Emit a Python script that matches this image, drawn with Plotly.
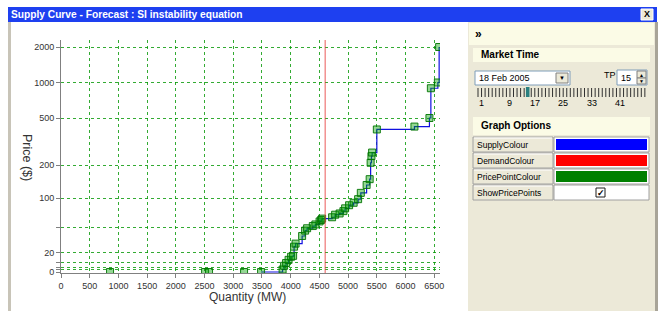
import numpy as np
import plotly.graph_objects as go

# ---------------- data ----------------
quantity_mw = [854, 2509, 2578, 3188, 3484, 3859, 3885, 3920, 3963, 4007, 4042, 4059, 4085,
               4199, 4251, 4286, 4385, 4430, 4503, 4530, 4547, 4721, 4774, 4852, 4918, 4948,
               5017, 5096, 5174, 5221, 5322, 5375, 5392, 5406, 5418, 5500, 6155, 6416, 6441,
               6563, 6585]
price_dollars = [0, 0, 0, 0, 0, 2, 6, 9, 12, 15, 16, 25, 28,
                 37, 45, 49, 52, 54, 58, 60, 62, 64, 68, 70, 74, 79,
                 85, 90, 98, 112, 132, 149, 209, 238, 255, 400, 423, 500, 894,
                 1000, 2000]
supply_line_start_mw = 3484
demand_mw = 4600

x_tick_vals = list(range(0, 7000, 500))
y_tick_vals = [0, 2, 5, 10, 20, 50, 100, 200, 500, 1000, 2000]
y_tick_text = ["0", "", "", "", "20", "", "100", "200", "500", "1000", "2000"]
# custom compressed (log-like) price scale: axis height of each tick value
y_scale_height = [0, 2.5, 5, 9.7, 19.3, 44.3, 73.7, 107, 154, 189.5, 225]

window_title = "Supply Curve - Forecast : SI instability equation"
market_date = "18 Feb 2005"
trading_period = 15
tp_count = 48
tp_labels = [1, 9, 17, 25, 33, 41]
option_names = ["SupplyColour", "DemandColour", "PricePointColour", "ShowPricePoints"]
option_colours = ["#0000FF", "#FF0000", "#008000", None]


def price_to_axis(p):
    return np.interp(np.log10(np.asarray(p, dtype=float) + 1),
                     np.log10(np.asarray(y_tick_vals, dtype=float) + 1),
                     y_scale_height)


q = np.array(quantity_mw)
p = np.array(price_dollars)
line_mask = q >= supply_line_start_mw

fig = go.Figure()
fig.add_trace(go.Scatter(x=q[line_mask], y=price_to_axis(p[line_mask]), mode="lines",
                         line=dict(color="#1010E0", width=1.2, shape="hv"), hoverinfo="skip"))
fig.add_trace(go.Scatter(x=q, y=price_to_axis(p), mode="markers",
                         marker=dict(symbol="square", size=7, color="rgba(0,160,0,0.42)",
                                     line=dict(color="rgba(0,115,0,0.9)", width=1))))

# --------------- layout geometry (pixels) ---------------
W, H = 662, 311
L, R, T, B = 61, 440, 40, 273


def PX(x):
    return (x - L) / (R - L)


def PY(y):
    return (B - y) / (B - T)


shapes = []
annos = []


def rect(x0, y0, x1, y1, fill, line=None, lw=1, layer="above"):
    shapes.append(dict(type="rect", xref="paper", yref="paper",
                       x0=PX(x0), x1=PX(x1), y0=PY(y1), y1=PY(y0),
                       fillcolor=fill, layer=layer,
                       line=dict(color=line or fill, width=lw if line else 0)))


def hline(x0, x1, y, color, w=1):
    shapes.append(dict(type="line", xref="paper", yref="paper",
                       x0=PX(x0), x1=PX(x1), y0=PY(y), y1=PY(y),
                       line=dict(color=color, width=w)))


def vline(x, y0, y1, color, w=1):
    shapes.append(dict(type="line", xref="paper", yref="paper",
                       x0=PX(x), x1=PX(x), y0=PY(y0), y1=PY(y1),
                       line=dict(color=color, width=w)))


def text(x, y, s, size=9, color="#000", bold=False, anchor="left", family="Liberation Sans", angle=0):
    annos.append(dict(x=PX(x), y=PY(y), xref="paper", yref="paper", text=("<b>%s</b>" % s) if bold else s,
                      showarrow=False, xanchor=anchor, yanchor="middle", textangle=angle,
                      borderpad=0, font=dict(size=size, color=color, family=family)))


# window frame
rect(8, 7, 657, 22, "#1E40F0")
text(10, 14.5, window_title, size=10.2, color="#FFFFFF", bold=True)
rect(641, 9, 653, 20, "#ECE9D8", line="#FFFFFF")
text(647, 14.5, "X", size=9, bold=True, anchor="center")
rect(8, 22, 11, 311, "#C8C4B8")
rect(655, 22, 658, 311, "#A8A498")

# right panel
PANEL_BG = "#ECE9D8"
CREAM = "#FBFBE6"
rect(468, 22, 655, 311, PANEL_BG)
rect(469, 23, 654, 45, CREAM)
text(474, 34, "»", size=12, bold=True)

rect(473, 48, 650, 62, CREAM)
text(480, 55, "Market Time", size=10, bold=True)

# date combo
rect(475, 71, 570, 85, "#FFFFFF", line="#7F9DB9")
text(478, 78, market_date, size=9)
rect(556, 73, 568, 83, PANEL_BG, line="#808080")
text(562, 78, "▼", size=6, anchor="center")
# TP spinner
text(603, 75, "TP", size=9)
rect(617, 70, 647, 85, "#FFFFFF", line="#7F9DB9")
text(620, 77.5, str(trading_period), size=9)
rect(637, 71, 646, 78, PANEL_BG, line="#808080")
rect(637, 78, 646, 84, PANEL_BG, line="#808080")
text(641.5, 74.5, "▲", size=5, anchor="center")
text(641.5, 81, "▼", size=5, anchor="center")

# trading-period track bar
tp_x0, tp_step = 478, 3.55
for i in range(tp_count):
    x = tp_x0 + i * tp_step
    vline(x, 88, 97, "#303030", 1)
sel = tp_x0 + (trading_period - 1) * tp_step
rect(sel - 1.8, 87, sel + 1.8, 97, "#2A8080")
for lab in tp_labels:
    text(tp_x0 + (lab - 1) * tp_step, 103, str(lab), size=9, anchor="left" if lab < 10 else "center")

# graph options
rect(473, 117, 650, 135, CREAM)
text(480, 125, "Graph Options", size=10, bold=True)
row_top = 137
row_h = 16
for i, (name, col) in enumerate(zip(option_names, option_colours)):
    y0 = row_top + i * row_h
    y1 = y0 + row_h - 1
    rect(473, y0, 553, y1, PANEL_BG, line="#A0A0A0")
    hline(474, 552, y0 + 1, "#FFFFFF")
    text(476, (y0 + y1) / 2, name, size=8.5)
    rect(554, y0, 649, y1, "#FFFFFF", line="#A0A0A0")
    if col:
        rect(556, y0 + 2, 647, y1 - 2, col)
    else:
        rect(596, y0 + 3, 605, y1 - 3, "#FFFFFF", line="#1C1C1C")
        text(600.5, (y0 + y1) / 2, "✓", size=9, anchor="center", bold=True)

# chart texts
text(247, 297, "Quantity (MW)", size=12, color="#333333", anchor="center")
text(27, 157, "Price ($)", size=12.5, color="#333333", anchor="center", angle=90)

# demand line
shapes.append(dict(type="line", xref="x", yref="y domain", x0=demand_mw, x1=demand_mw, y0=0, y1=1,
                   line=dict(color="rgba(230,60,60,0.85)", width=1)))

grid = "rgba(0,150,0,0.8)"
fig.update_layout(
    width=W, height=H, autosize=False,
    margin=dict(l=L, r=W - R, t=T, b=H - B, pad=0),
    paper_bgcolor="#FFFFFF", plot_bgcolor="#FFFFFF", showlegend=False,
    font=dict(family="Liberation Sans", color="#333333"),
    xaxis=dict(range=[0, 6600], tickvals=x_tick_vals, ticks="outside", ticklen=4,
               tickcolor="#808080", showline=True, linecolor="#808080", linewidth=1,
               showgrid=True, gridcolor=grid, griddash="dot", gridwidth=1, zeroline=False,
               tickfont=dict(size=9, color="#333333")),
    yaxis=dict(range=[-1, 232], tickvals=price_to_axis(y_tick_vals), ticktext=y_tick_text,
               ticks="outside", ticklen=4, tickcolor="#808080", showline=True,
               linecolor="#808080", linewidth=1, showgrid=True, gridcolor=grid, griddash="dot",
               gridwidth=1, zeroline=False, tickfont=dict(size=9, color="#333333")),
    shapes=shapes, annotations=annos,
)
fig.write_html("out.html", config={"displayModeBar": False},
               post_script="document.body.style.margin='0';document.body.style.overflow='hidden';")
